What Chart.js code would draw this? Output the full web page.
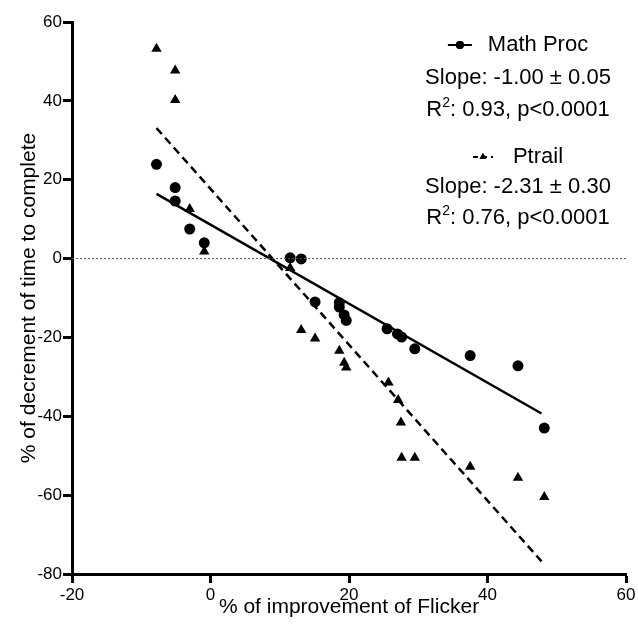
<!DOCTYPE html>
<html>
<head>
<meta charset="utf-8">
<script src="https://cdn.jsdelivr.net/npm/chart.js@4"></script>
<style>
html, body { margin: 0; padding: 0; background: #fff; }
</style>
</head>
<body>
<canvas id="c" width="638" height="632"></canvas>
<script>
// data
const mathX = [-7.8, -5.1, -5.1, -3.0, -0.9, 11.5, 13.1, 15.1, 18.6, 18.6, 19.3, 19.6, 25.5, 27.0, 27.6, 29.5, 37.5, 44.4, 48.2];
const mathY = [23.9, 18.0, 14.6, 7.5, 4.0, 0.2, -0.1, -11.0, -11.2, -12.3, -14.3, -15.7, -17.8, -19.1, -19.9, -22.9, -24.6, -27.2, -43.0];

const ptrailX = [-7.8, -5.1, -5.1, -3.0, -0.9, 11.5, 13.1, 15.1, 18.6, 19.3, 19.6, 25.7, 27.1, 27.5, 27.6, 29.5, 37.5, 44.4, 48.2];
const ptrailY = [53.2, 47.7, 40.2, 12.6, 1.8, -2.4, -18.1, -20.3, -23.4, -26.4, -27.6, -31.4, -35.9, -41.6, -50.5, -50.5, -52.8, -55.6, -60.5];

// regression lines (end points)
const mathFitX = [-7.8, 47.8];
const mathFitY = [16.4, -39.3];
const ptrailFitX = [-7.8, 47.8];
const ptrailFitY = [33.1, -76.8];

// dotted zero line
const zeroX = [-20, 60];
const zeroY = [0, 0];

const xTicks = [-20, 0, 20, 40, 60];
const yTicks = [-80, -60, -40, -20, 0, 20, 40, 60];

const xTitle = '% of improvement of Flicker';
const yTitle = '% of decrement of time to complete';

const mathLabel = 'Math Proc';
const mathStats = ['Slope: -1.00 ± 0.05', 'R²: 0.93, p<0.0001'];
const ptrailLabel = 'Ptrail';
const ptrailStats = ['Slope: -2.31 ± 0.30', 'R²: 0.76, p<0.0001'];

const FONT = '"Liberation Sans", Arial, Helvetica, sans-serif';

function pts(xs, ys) {
    return xs.map((x, i) => ({ x: x, y: ys[i] }));
}

// text with a superscript "2"
function drawStat(ctx, text, cx, y) {
    const parts = text.split('²');
    const big = '22px ' + FONT;
    const small = '14px ' + FONT;
    ctx.font = big;
    const w0 = ctx.measureText(parts[0]).width;
    const w2 = parts.length > 1 ? ctx.measureText(parts[1]).width : 0;
    ctx.font = small;
    const ws = parts.length > 1 ? ctx.measureText('2').width : 0;
    let x = cx - (w0 + ws + w2) / 2;
    ctx.textAlign = 'left';
    ctx.font = big;
    ctx.fillText(parts[0], x, y);
    x += w0;
    if (parts.length > 1) {
        ctx.font = small;
        ctx.fillText('2', x, y - 7);
        x += ws;
        ctx.font = big;
        ctx.fillText(parts[1], x, y);
    }
}

function drawKey(ctx, label, cx, y, style) {
    const markW = style === 'circle' ? 24 : 20;
    const gap = style === 'circle' ? 16 : 20;
    ctx.font = '22px ' + FONT;
    const tw = ctx.measureText(label).width;
    const x0 = cx - (markW + gap + tw) / 2;
    ctx.lineWidth = 2;
    ctx.setLineDash(style === 'circle' ? [] : [5, 4]);
    ctx.beginPath();
    ctx.moveTo(x0, y);
    ctx.lineTo(x0 + markW, y);
    ctx.stroke();
    ctx.setLineDash([]);
    Chart.helpers.drawPoint(ctx, { pointStyle: style, radius: 4, borderWidth: 0 }, x0 + markW / 2, y);
    ctx.fill();
    ctx.textAlign = 'left';
    ctx.fillText(label, x0 + markW + gap, y);
}

const statsLegend = {
    id: 'statsLegend',
    afterDraw(chart) {
        const ctx = chart.ctx;
        const cx = 518;
        ctx.save();
        ctx.fillStyle = '#000';
        ctx.strokeStyle = '#000';
        ctx.textBaseline = 'middle';
        drawKey(ctx, mathLabel, cx, 45, 'circle');
        drawStat(ctx, mathStats[0], cx, 78);
        drawStat(ctx, mathStats[1], cx, 110);
        drawKey(ctx, ptrailLabel, cx, 157, 'triangle');
        drawStat(ctx, ptrailStats[0], cx, 187);
        drawStat(ctx, ptrailStats[1], cx, 218);
        ctx.restore();
    }
};

const axisGrid = {
    drawOnChartArea: false,
    drawTicks: true,
    tickLength: 9,
    tickWidth: 3,
    tickColor: '#000'
};

new Chart(document.getElementById('c'), {
    type: 'scatter',
    data: {
        datasets: [
            {
                label: 'zero',
                data: pts(zeroX, zeroY),
                showLine: true,
                borderColor: '#555',
                borderWidth: 1,
                borderDash: [2, 2],
                pointRadius: 0
            },
            {
                label: 'Math Proc fit',
                data: pts(mathFitX, mathFitY),
                showLine: true,
                borderColor: '#000',
                borderWidth: 2.5,
                pointRadius: 0
            },
            {
                label: 'Ptrail fit',
                data: pts(ptrailFitX, ptrailFitY),
                showLine: true,
                borderColor: '#000',
                borderWidth: 2.5,
                borderDash: [8, 5],
                pointRadius: 0
            },
            {
                label: mathLabel,
                data: pts(mathX, mathY),
                pointStyle: 'circle',
                pointRadius: 5.5,
                backgroundColor: '#000',
                borderColor: '#000',
                borderWidth: 0
            },
            {
                label: ptrailLabel,
                data: pts(ptrailX, ptrailY),
                pointStyle: 'triangle',
                pointRadius: 6,
                backgroundColor: '#000',
                borderColor: '#000',
                borderWidth: 0
            }
        ]
    },
    options: {
        responsive: false,
        animation: false,
        devicePixelRatio: 1,
        layout: { padding: { left: 0, right: 12, top: 22, bottom: 0 } },
        plugins: {
            legend: { display: false },
            tooltip: { enabled: false }
        },
        scales: {
            x: {
                type: 'linear',
                min: xTicks[0],
                max: xTicks[xTicks.length - 1],
                afterBuildTicks: s => { s.ticks = xTicks.map(v => ({ value: v })); },
                afterFit: s => { s.height = 58; },
                ticks: { font: { family: FONT, size: 17 }, color: '#000', padding: 2, maxRotation: 0 },
                grid: axisGrid,
                border: { display: true, width: 3, color: '#000' },
                title: { display: true, text: xTitle, color: '#000', font: { family: FONT, size: 21 }, padding: { top: 0, bottom: 12 } }
            },
            y: {
                type: 'linear',
                min: yTicks[0],
                max: yTicks[yTicks.length - 1],
                afterBuildTicks: s => { s.ticks = yTicks.map(v => ({ value: v })); },
                afterFit: s => { s.width = 72; },
                ticks: { font: { family: FONT, size: 17 }, color: '#000', padding: 1 },
                grid: axisGrid,
                border: { display: true, width: 3, color: '#000' },
                title: { display: true, text: yTitle, color: '#000', font: { family: FONT, size: 21 }, padding: { top: 17, bottom: 0 } }
            }
        }
    },
    plugins: [statsLegend]
});
</script>
</body>
</html>
